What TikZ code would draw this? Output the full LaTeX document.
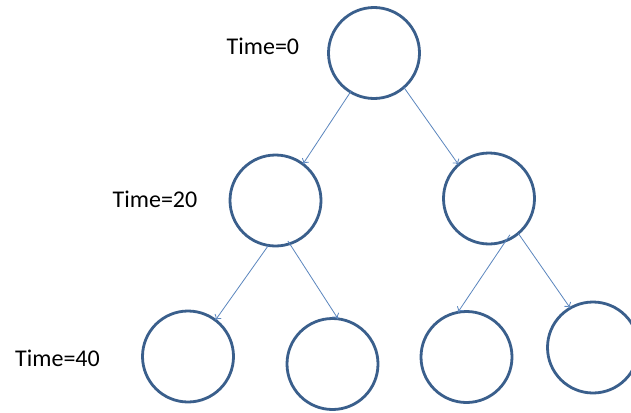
\documentclass[tikz,border=0pt]{standalone}
\usepackage{fontspec}
\setmainfont{Carlito}
\usetikzlibrary{arrows.meta,calc}
\definecolor{ringblue}{HTML}{3A5F8C}
\definecolor{arrowblue}{HTML}{5B86BE}
\begin{document}
\begin{tikzpicture}[x=1pt,y=-1pt,
  ring/.style={circle,draw=ringblue,line width=2.8pt,minimum size=91pt,inner sep=0pt,outer sep=0pt},
  link/.style={draw=arrowblue,line width=0.8pt,-{To[length=5pt,width=8pt]}},
  lbl/.style={font=\fontsize{24}{28}\selectfont,anchor=base west,inner sep=0pt}]
\useasboundingbox (0,0) rectangle (631,412);
\fill[white] (0,0) rectangle (631,412);
\node[ring] (t) at (374,53) {};
\node[ring] (ml) at (275.5,200.5) {};
\node[ring] (mr) at (489,198.5) {};
\node[ring] (b1) at (188,356.5) {};
\node[ring] (b2) at (332.5,364) {};
\node[ring] (b3) at (466.5,357) {};
\node[ring] (b4) at (593,347.5) {};
\node[lbl] (l0) at (226.5,55) {Time=0};
\node[lbl] (l20) at (112.5,207) {Time=20};
\node[lbl] (l40) at (15,366) {Time=40};
\draw[link] ($(t.center)!0.97!(t.-121)$) -- (ml.53);
\draw[link] (t.-49) -- (mr.132);
\draw[link] (ml.-99) -- (b1.53);
\draw[link] ($(ml.center)!0.93!(ml.-73)$) -- (b2.83);
\draw[link] ($(mr.center)!0.92!(mr.-60)$) -- (b3.101);
\draw[link] (mr.-50) -- (b4.120);
\end{tikzpicture}
\end{document}
